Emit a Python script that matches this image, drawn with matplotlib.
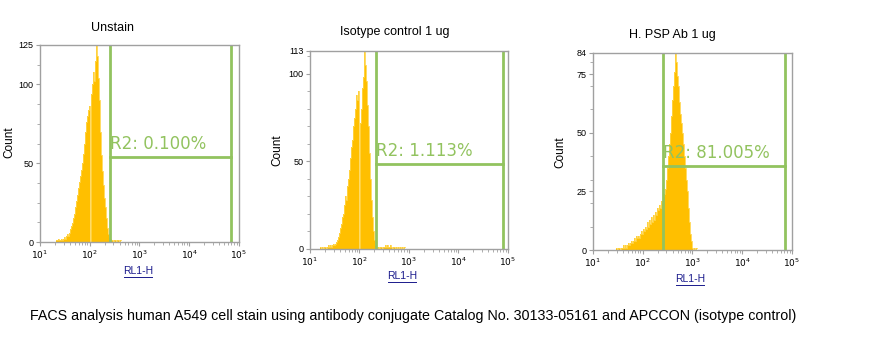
import numpy as np
import matplotlib
matplotlib.use("Agg")
import matplotlib.pyplot as plt
from matplotlib.ticker import FixedLocator, LogLocator, NullFormatter


# =========================
# Data (log10 bin start, step 0.02 decade)
# =========================

TITLES = ["Unstain", "Isotype control 1 ug", "H. PSP Ab 1 ug"]
R2_LABELS = ["R2: 0.100%", "R2: 1.113%", "R2: 81.005%"]
YMAX = [125, 113, 84]
YTICKS = [[0, 50, 100, 125], [0, 50, 100, 113], [0, 25, 50, 75, 84]]

LOG_START = [1.32, 1.20, 1.46]
BIN_STEP = 0.02

counts_unstain = [
    1, 1, 2, 1, 1, 2, 1, 2, 3, 2, 4, 5, 4, 6, 8, 10, 12, 15, 18, 22,
    26, 30, 34, 38, 42, 46, 50, 56, 62, 70, 76, 80, 84, 86, 0, 94, 100, 108, 102, 115,
    125, 118, 104, 90, 70, 55, 45, 36, 28, 22, 15, 9, 5, 3, 2, 1, 1, 0, 1, 1,
    0, 1, 1, 0, 1,
]
counts_isotype = [
    1, 0, 1, 0, 1, 1, 0, 1, 2, 1, 2, 1, 2, 3, 2, 3, 4, 5, 7, 9,
    12, 14, 18, 20, 25, 30, 28, 36, 40, 45, 52, 58, 62, 70, 75, 80, 88, 85, 90, 78,
    0, 72, 80, 92, 98, 113, 105, 96, 82, 70, 55, 40, 28, 18, 10, 5, 2, 1, 0, 1,
    0, 1, 1, 0, 1, 1, 2, 1, 2, 1, 1, 2, 1, 0, 1, 1, 0, 1, 0, 1,
    0, 1, 0, 1, 0, 1,
]
counts_psp = [
    1, 0, 1, 1, 0, 1, 1, 2, 1, 2, 1, 2, 3, 2, 3, 4, 3, 4, 5, 4,
    6, 5, 6, 5, 7, 8, 7, 9, 8, 10, 9, 12, 10, 13, 11, 14, 12, 15, 13, 16,
    15, 18, 17, 19, 18, 21, 20, 23, 24, 26, 30, 35, 40, 45, 50, 57, 64, 70, 76, 84,
    80, 74, 70, 63, 58, 54, 50, 45, 40, 35, 30, 25, 18, 12, 7, 4, 2, 1, 0, 1,
    0, 1,
]
COUNTS = [counts_unstain, counts_isotype, counts_psp]

# R2 gate: low / high bound (RL1-H) and marker height (count)
GATE_LO = [251, 214, 251]
GATE_HI = [69000, 78000, 74000]
GATE_Y = [54, 48.5, 36]

CAPTION = ("FACS analysis human A549 cell stain using antibody conjugate "
           "Catalog No. 30133-05161 and APCCON (isotype control)")


# =========================
# Style
# =========================

W, H = 878, 350
FILL = "#FFBF00"
EDGE = "#FFD54A"
GATE = "#92C35F"
SPINE = "#A0A0A0"
LINK = "#1A1A8C"

# axes boxes in pixels: left, right, top, bottom
BOXES = [(40, 239, 45, 242), (310, 508, 51, 249), (593, 792, 53, 250)]
TITLE_POS = [(113, 28), (395, 32), (672, 35)]
YLABEL_POS = [(9, 142), (277, 150), (560, 152)]
XLABEL_POS = [(138, 271), (402, 276), (690, 279)]

plt.rcParams["font.family"] = ["Liberation Sans", "DejaVu Sans"]

fig = plt.figure(figsize=(W / 100, H / 100), dpi=100)


def fx(px):
    return px / W


def fy(py):
    return 1 - py / H


for i in range(3):
    l, r, t, b = BOXES[i]
    ax = fig.add_axes([fx(l), fy(b), (r - l) / W, (b - t) / H])

    # histogram as a filled step curve
    c = np.array(COUNTS[i], dtype=float)
    edges = LOG_START[i] + BIN_STEP * np.arange(len(c) + 1)
    xs = 10 ** edges
    ys = np.append(c, c[-1])
    ax.fill_between(xs, ys, step="post", color=FILL, lw=0)
    ax.step(xs, ys, where="post", color=EDGE, lw=0.6)

    # gate
    ax.plot([GATE_LO[i], GATE_LO[i]], [0, YMAX[i]], color=GATE, lw=2, solid_capstyle="butt")
    ax.plot([GATE_HI[i], GATE_HI[i]], [0, YMAX[i]], color=GATE, lw=2, solid_capstyle="butt")
    ax.plot([GATE_LO[i], GATE_HI[i]], [GATE_Y[i], GATE_Y[i]], color=GATE, lw=2)
    ax.text(GATE_LO[i] * 1.03, GATE_Y[i] + YMAX[i] * 0.02, R2_LABELS[i],
            color=GATE, fontsize=12, family="DejaVu Sans", va="bottom", ha="left")

    ax.set_xscale("log")
    ax.set_xlim(10, 1e5)
    ax.set_ylim(0, YMAX[i])

    ax.xaxis.set_major_locator(FixedLocator([1e1, 1e2, 1e3, 1e4, 1e5]))
    ax.set_xticklabels([r"$10^{1}$", r"$10^{2}$", r"$10^{3}$", r"$10^{4}$", r"$10^{5}$"])
    ax.xaxis.set_minor_locator(LogLocator(base=10, subs=np.arange(2, 10)))
    ax.xaxis.set_minor_formatter(NullFormatter())

    ax.set_yticks(YTICKS[i])
    ax.yaxis.set_minor_locator(FixedLocator(np.arange(0, YMAX[i], 12.5 if i == 0 else 10)))

    ax.tick_params(axis="both", which="major", labelsize=6.5, length=3, width=0.8,
                   color=SPINE, pad=1.5)
    ax.tick_params(axis="both", which="minor", length=2, width=0.6, color=SPINE)
    for s in ax.spines.values():
        s.set_color(SPINE)
        s.set_linewidth(1)

    fig.text(fx(TITLE_POS[i][0]), fy(TITLE_POS[i][1]), TITLES[i],
             ha="center", va="center", fontsize=9)
    fig.text(fx(YLABEL_POS[i][0]), fy(YLABEL_POS[i][1]), "Count",
             ha="center", va="center", rotation=90, fontsize=8.5)
    fig.text(fx(XLABEL_POS[i][0]), fy(XLABEL_POS[i][1]), "RL1-H",
             ha="center", va="center", fontsize=7.5, color=LINK)
    # underline like the hyperlink in the reference
    fig.add_artist(plt.Line2D([fx(XLABEL_POS[i][0] - 14), fx(XLABEL_POS[i][0] + 14)],
                              [fy(XLABEL_POS[i][1] + 6), fy(XLABEL_POS[i][1] + 6)],
                              color=LINK, lw=0.7))

fig.text(fx(30), fy(316), CAPTION, ha="left", va="center", fontsize=10.3)

fig.savefig("out.png", dpi=100)
